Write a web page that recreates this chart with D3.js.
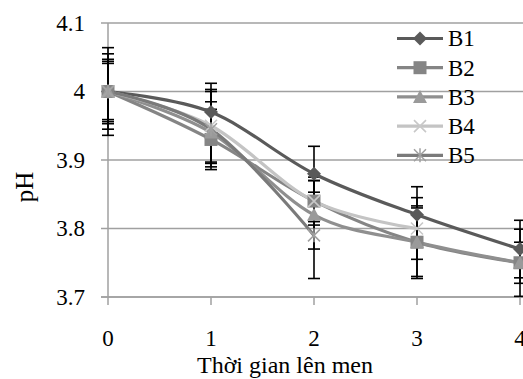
<!DOCTYPE html>
<html><head><meta charset="utf-8">
<script src="https://cdn.jsdelivr.net/npm/d3@7"></script>
<style>body{margin:0;background:#fff}svg{display:block}</style>
</head><body><svg id="c" width="523" height="379" font-family="'Liberation Serif', 'Times New Roman', Tinos, 'DejaVu Serif', serif"></svg>
<script>
const days = [0, 1, 2, 3, 4];
const yTicks = [3.7, 3.8, 3.9, 4.0, 4.1];
const names = ["B1", "B2", "B3", "B4", "B5"];
const B1 = [4.00, 3.97, 3.88, 3.82, 3.77];
const B2 = [4.00, 3.93, 3.84, 3.78, 3.75];
const B3 = [4.00, 3.94, 3.82, 3.78, 3.75];
const B4 = [4.00, 3.95, 3.84, 3.80];
const B5 = [4.00, 3.945, 3.79];
const E1 = [0.064, 0.042, 0.040, 0.041, 0.042];
const E2 = [0.047, 0.044, 0.035, 0.050, 0.049];
const E3 = [0.044, 0.045, 0.050, 0.053, 0.030];
const E4 = [0.055, 0.053, 0.030, 0.045];
const E5 = [0.041, 0.055, 0.063];
const xTitle = "Thời gian lên men";
const yTitle = "pH";

const series = [
  {name: names[0], v: B1, e: E1, color: "#5a5a5a", mcol: "#5a5a5a", sym: "diamond"},
  {name: names[1], v: B2, e: E2, color: "#858585", mcol: "#858585", sym: "square"},
  {name: names[2], v: B3, e: E3, color: "#8f8f8f", mcol: "#9a9a9a", sym: "triangle"},
  {name: names[3], v: B4, e: E4, color: "#c4c4c4", mcol: "#c8c8c8", sym: "x"},
  {name: names[4], v: B5, e: E5, color: "#7a7a7a", mcol: "#a0a0a0", sym: "star"}
];

const svg = d3.select("#c");
const x = d3.scaleLinear().domain([0, 4]).range([108, 520]);
const y = d3.scaleLinear().domain([3.7, 4.1]).range([297, 23]);

svg.append("g").selectAll("line").data(yTicks).join("line")
  .attr("x1", 101).attr("x2", 530)
  .attr("y1", d => y(d)).attr("y2", d => y(d))
  .attr("stroke", "#a0a0a0").attr("stroke-width", 1.5);

svg.append("line").attr("x1", x(0)).attr("x2", x(0)).attr("y1", y(4.1)).attr("y2", y(3.7))
  .attr("stroke", "#a0a0a0").attr("stroke-width", 1.5);
svg.append("line").attr("x1", 101).attr("x2", 530).attr("y1", y(3.7)).attr("y2", y(3.7))
  .attr("stroke", "#a0a0a0").attr("stroke-width", 1.5);
svg.append("g").selectAll("line").data(days).join("line")
  .attr("x1", d => x(d)).attr("x2", d => x(d)).attr("y1", y(3.7)).attr("y2", y(3.7) + 8)
  .attr("stroke", "#a0a0a0").attr("stroke-width", 1.5);

svg.append("g").selectAll("text").data(yTicks).join("text")
  .attr("x", 85).attr("y", d => y(d)).attr("dy", "0.34em")
  .attr("text-anchor", "end").attr("font-size", 23)
  .text(d => String(+d.toFixed(1)));
svg.append("g").selectAll("text").data(days).join("text")
  .attr("x", d => x(d)).attr("y", 346)
  .attr("text-anchor", "middle").attr("font-size", 23)
  .text(d => d);

svg.append("text").attr("x", 285).attr("y", 373).attr("text-anchor", "middle")
  .attr("font-size", 24).text(xTitle);
svg.append("text").attr("transform", "translate(33,187) rotate(-90)")
  .attr("text-anchor", "middle").attr("font-size", 25).text(yTitle);

const eg = svg.append("g").attr("stroke", "#000").attr("stroke-width", 1.6);
series.forEach(s => {
  s.v.forEach((v, i) => {
    const cx = x(days[i]);
    eg.append("line").attr("x1", cx).attr("x2", cx).attr("y1", y(v + s.e[i])).attr("y2", y(v - s.e[i]));
    [v + s.e[i], v - s.e[i]].forEach(t => {
      eg.append("line").attr("x1", cx - 6).attr("x2", cx + 6).attr("y1", y(t)).attr("y2", y(t));
    });
  });
});

const line = d3.line().x((d, i) => x(days[i])).y(d => y(d)).curve(d3.curveCardinal.tension(0));
series.forEach(s => {
  svg.append("path").attr("d", line(s.v)).attr("fill", "none")
    .attr("stroke", s.color).attr("stroke-width", 3.2);
});

function marker(g, sym, cx, cy, col) {
  if (sym === "diamond") {
    g.append("path").attr("d", `M${cx},${cy-7}L${cx+7},${cy}L${cx},${cy+7}L${cx-7},${cy}Z`).attr("fill", col);
  } else if (sym === "square") {
    g.append("rect").attr("x", cx - 6.5).attr("y", cy - 6.5).attr("width", 13).attr("height", 13).attr("fill", col);
  } else if (sym === "triangle") {
    g.append("path").attr("d", `M${cx},${cy-7}L${cx+7},${cy+6}L${cx-7},${cy+6}Z`).attr("fill", col);
  } else if (sym === "x") {
    g.append("path").attr("d", `M${cx-6},${cy-6}L${cx+6},${cy+6}M${cx-6},${cy+6}L${cx+6},${cy-6}`)
      .attr("stroke", col).attr("stroke-width", 1.6).attr("fill", "none");
  } else {
    g.append("path").attr("d", `M${cx-6},${cy-6}L${cx+6},${cy+6}M${cx-6},${cy+6}L${cx+6},${cy-6}M${cx},${cy-7}L${cx},${cy+7}`)
      .attr("stroke", col).attr("stroke-width", 1.5).attr("fill", "none");
  }
}
const mg = svg.append("g");
series.forEach(s => s.v.forEach((v, i) => marker(mg, s.sym, x(days[i]), y(v), s.mcol)));

const lg = svg.append("g");
series.forEach((s, i) => {
  const ly = 38.5 + i * 29.2;
  lg.append("line").attr("x1", 397).attr("x2", 443).attr("y1", ly).attr("y2", ly)
    .attr("stroke", s.color).attr("stroke-width", 3.2);
  marker(lg, s.sym, 420, ly, s.mcol);
  lg.append("text").attr("x", 448).attr("y", ly).attr("dy", "0.34em")
    .attr("font-size", 23).text(s.name);
});
</script></body></html>
